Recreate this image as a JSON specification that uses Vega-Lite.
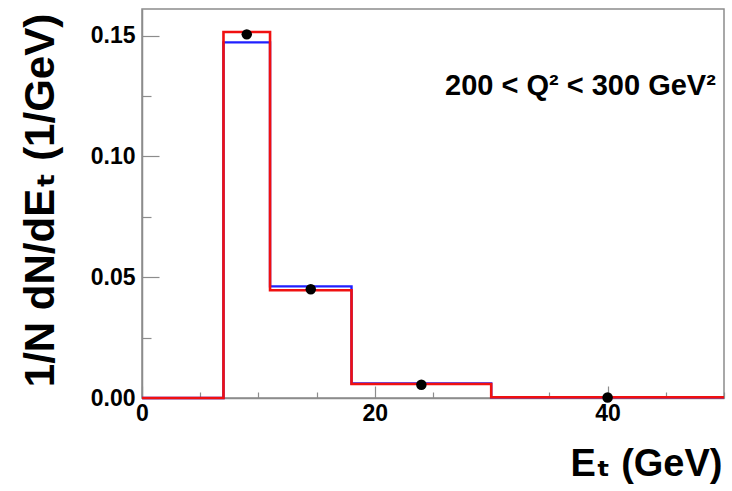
{
  "$schema": "https://vega.github.io/schema/vega-lite/v6.json",
  "width": 582,
  "height": 389,
  "autosize": {"type": "none"},
  "padding": {"left": 142, "top": 9, "right": 8, "bottom": 93},
  "background": "white",
  "config": {
    "font": "Liberation Sans, DejaVu Sans",
    "view": {"stroke": "#8c8c8c", "strokeWidth": 1.5},
    "axis": {
      "grid": false,
      "domainColor": "#8c8c8c",
      "domainWidth": 1.5,
      "tickColor": "#8c8c8c",
      "tickWidth": 1.2,
      "labelColor": "black",
      "labelFontWeight": "bold",
      "labelFontSize": 23,
      "labelOverlap": false,
      "labelFlush": false,
      "titleColor": "black",
      "titleFontWeight": "bold"
    }
  },
  "datasets": {
    "blue": [
      {"Et": 0, "dens": 0},
      {"Et": 7, "dens": 0.1472},
      {"Et": 11, "dens": 0.0462},
      {"Et": 18, "dens": 0.0060},
      {"Et": 30, "dens": 0.0003},
      {"Et": 50, "dens": 0.0003}
    ],
    "red": [
      {"Et": 0, "dens": 0},
      {"Et": 7, "dens": 0.1515},
      {"Et": 11, "dens": 0.0446},
      {"Et": 18, "dens": 0.0058},
      {"Et": 30, "dens": 0.0003},
      {"Et": 50, "dens": 0.0003}
    ],
    "points": [
      {"Et": 9, "dens": 0.1505},
      {"Et": 14.5, "dens": 0.0450},
      {"Et": 24, "dens": 0.0055},
      {"Et": 40, "dens": 0.0002}
    ]
  },
  "layer": [
    {
      "data": {"name": "blue"},
      "mark": {"type": "line", "interpolate": "step-after", "color": "#2020ff", "strokeWidth": 2.4},
      "encoding": {
        "x": {
          "field": "Et", "type": "quantitative",
          "scale": {"domain": [0, 50], "nice": false, "zero": false},
          "axis": {
            "values": [0, 5, 10, 15, 20, 25, 30, 35, 40, 45, 50],
            "labelExpr": "datum.value % 20 == 0 ? format(datum.value, 'd') : ''",
            "tickSize": {"condition": {"test": "datum.value % 20 == 0", "value": -12}, "value": -6},
            "labelPadding": 16,
            "title": "Eₜ (GeV)",
            "titleFontSize": 38,
            "titleAlign": "right",
            "titleAnchor": "end",
            "titleBaseline": "alphabetic",
            "titleX": 580,
            "titleY": 77
          }
        },
        "y": {
          "field": "dens", "type": "quantitative",
          "scale": {"domain": [0, 0.161], "nice": false},
          "axis": {
            "values": [0, 0.025, 0.05, 0.075, 0.1, 0.125, 0.15],
            "labelExpr": "abs(datum.value*20 - round(datum.value*20)) < 0.001 ? format(datum.value, '.2f') : ''",
            "tickSize": {"condition": {"test": "abs(datum.value*20 - round(datum.value*20)) < 0.001", "value": -17}, "value": -9},
            "labelPadding": 24,
            "title": "1/N dN/dEₜ (1/GeV)",
            "titleFontSize": 42,
            "titleAngle": -90,
            "titleAlign": "center",
            "titleBaseline": "alphabetic",
            "titleX": -89,
            "titleY": 191
          }
        }
      }
    },
    {
      "data": {"name": "red"},
      "mark": {"type": "line", "interpolate": "step-after", "color": "#f01010", "strokeWidth": 2.6},
      "encoding": {
        "x": {"field": "Et", "type": "quantitative"},
        "y": {"field": "dens", "type": "quantitative"}
      }
    },
    {
      "data": {"name": "points"},
      "mark": {"type": "point", "filled": true, "color": "black", "opacity": 1, "size": 110},
      "encoding": {
        "x": {"field": "Et", "type": "quantitative"},
        "y": {"field": "dens", "type": "quantitative"}
      }
    },
    {
      "data": {"values": [{"label": "200 < Q² < 300 GeV²"}]},
      "mark": {"type": "text", "align": "right", "baseline": "alphabetic", "fontSize": 29, "fontWeight": "bold", "color": "black"},
      "encoding": {
        "x": {"datum": 49.3, "type": "quantitative"},
        "y": {"datum": 0.1255, "type": "quantitative"},
        "text": {"field": "label"}
      }
    }
  ]
}
